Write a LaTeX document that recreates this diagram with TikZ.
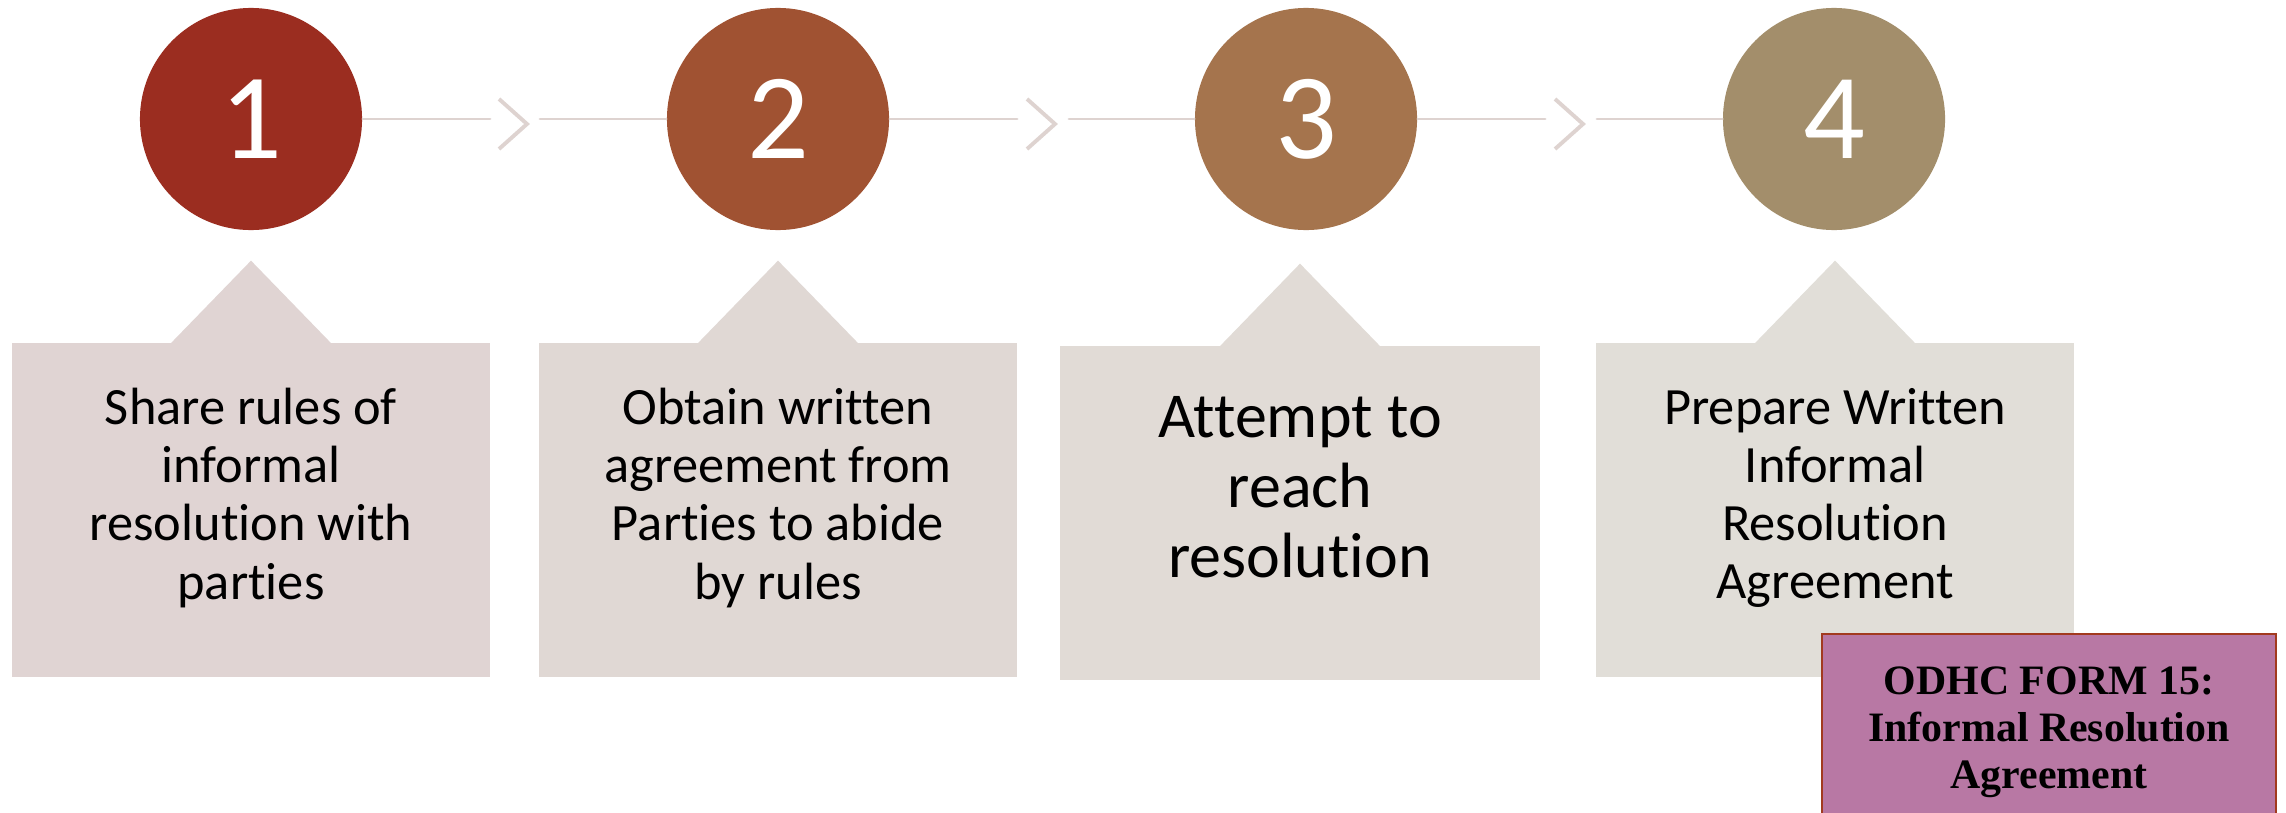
\documentclass[tikz,border=0pt]{standalone}
\usepackage{fontspec}
\setmainfont{Carlito}[Ligatures=NoCommon]
\newfontfamily\formfont{Liberation Serif}
\usetikzlibrary{positioning}
\definecolor{numA}{HTML}{9B2D20}
\definecolor{numB}{HTML}{A05232}
\definecolor{numC}{HTML}{A5744D}
\definecolor{numD}{HTML}{A38E6B}
\definecolor{cardA}{HTML}{E0D4D3}
\definecolor{cardB}{HTML}{E0D8D4}
\definecolor{cardC}{HTML}{E1DBD6}
\definecolor{cardD}{HTML}{E1DED8}
\definecolor{linkc}{HTML}{DED3D0}
\definecolor{formfill}{HTML}{B878A4}
\definecolor{formline}{HTML}{A23A1F}
\begin{document}
\begin{tikzpicture}[x=0.01cm,y=-0.01cm,num/.style={circle,minimum size=2.22cm,inner sep=0pt,text=white,font=\fontsize{34.7}{40}\selectfont},card/.style={rectangle,minimum width=4.77cm,minimum height=3.33cm,inner sep=0pt},cardtext/.style={align=center,inner sep=0pt,font=\fontsize{14.9}{16.5}\selectfont},link/.style={draw=linkc,line width=0.85pt,line cap=round},chev/.style={draw=linkc,line width=1.1pt},form/.style={rectangle,fill=formfill,draw=formline,line width=0.6pt,minimum width=4.54cm,minimum height=1.96cm,align=center,font=\formfont\bfseries\fontsize{11.9}{13.4}\selectfont}]
\clip (0,0) rectangle (2286,812);
\fill[white] (0,0) rectangle (2286,812);

\node[num,fill=numA] (c1) at (251,119) {1};
\node[num,fill=numB] (c2) at (778,119) {2};
\node[num,fill=numC] (c3) at (1306,119) {3};
\node[num,fill=numD] (c4) at (1834,119) {4};

\coordinate (e1) at (490,119);
\coordinate (s1) at (540,119);
\draw[link] (c1.east) -- (e1);
\draw[chev] (499,99) -- (527,124) -- (499,149);
\draw[link] (s1) -- (c2.west);
\coordinate (e2) at (1017,119);
\coordinate (s2) at (1069,119);
\draw[link] (c2.east) -- (e2);
\draw[chev] (1027,99) -- (1055,124) -- (1027,149);
\draw[link] (s2) -- (c3.west);
\coordinate (e3) at (1545,119);
\coordinate (s3) at (1597,119);
\draw[link] (c3.east) -- (e3);
\draw[chev] (1555,99) -- (1583,124) -- (1555,149);
\draw[link] (s3) -- (c4.west);

\node[card,fill=cardA] (b1) at (251,510) {};
\fill[cardA] ([xshift=-0.83cm,yshift=-1pt]b1.north) -- ([yshift=0.82cm]b1.north) -- ([xshift=0.83cm,yshift=-1pt]b1.north) -- cycle;
\node[cardtext] (t1) at ([yshift=0.12cm]b1.center) {Share rules of\\informal\\resolution with\\parties};
\node[card,fill=cardB] (b2) at (778,510) {};
\fill[cardB] ([xshift=-0.83cm,yshift=-1pt]b2.north) -- ([yshift=0.82cm]b2.north) -- ([xshift=0.83cm,yshift=-1pt]b2.north) -- cycle;
\node[cardtext] (t2) at ([yshift=0.12cm]b2.center) {Obtain written\\agreement from\\Parties to abide\\by rules};
\node[card,fill=cardC,minimum width=4.79cm] (b3) at (1300,513) {};
\fill[cardC] ([xshift=-0.83cm,yshift=-1pt]b3.north) -- ([yshift=0.82cm]b3.north) -- ([xshift=0.83cm,yshift=-1pt]b3.north) -- cycle;
\node[cardtext,font=\fontsize{18.2}{19.9}\selectfont] (t3) at ([yshift=0.26cm]b3.center) {Attempt to\\reach\\resolution};
\node[card,fill=cardD] (b4) at (1835,510) {};
\fill[cardD] ([xshift=-0.83cm,yshift=-1pt]b4.north) -- ([yshift=0.82cm]b4.north) -- ([xshift=0.83cm,yshift=-1pt]b4.north) -- cycle;
\node[cardtext] (t4) at ([yshift=0.12cm]b4.center) {Prepare Written\\Informal\\Resolution\\Agreement};

\node[form] (f15) at (2049,732) {ODHC FORM 15:\\Informal Resolution\\Agreement};
\end{tikzpicture}
\end{document}
